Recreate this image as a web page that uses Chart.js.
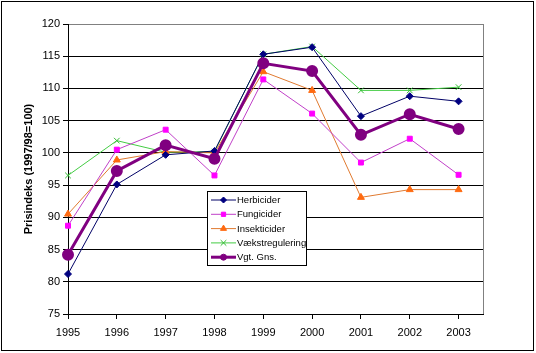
<!DOCTYPE html>
<html>
<head>
<meta charset="utf-8">
<script src="https://cdn.jsdelivr.net/npm/chart.js@4"></script>
<style>
    html, body { margin: 0; padding: 0; background: #fff; }
    #wrap { position: relative; width: 536px; height: 353px; }
    #frame { position: absolute; left: 1px; top: 1px; width: 531px; height: 348px; border: 1px solid #000; pointer-events: none; }
</style>
</head>
<body>
<div id="wrap">
    <canvas id="chart" width="536" height="353"></canvas>
    <div id="frame"></div>
</div>
<script>
const years = [1995, 1996, 1997, 1998, 1999, 2000, 2001, 2002, 2003];
const herbicider = [81.2, 95.1, 99.7, 100.3, 115.3, 116.4, 105.7, 108.8, 108.0];
const fungicider = [88.7, 100.5, 103.6, 96.5, 111.4, 106.1, 98.5, 102.2, 96.6];
const insekticider = [90.5, 98.9, 100.2, 100.0, 112.6, 109.7, 93.1, 94.3, 94.3];
const vaekstregulering = [96.5, 101.9, 100.1, 100.2, 115.3, 116.5, 109.7, 109.7, 110.2];
const vgtGns = [84.2, 97.2, 101.2, 99.1, 113.9, 112.7, 102.8, 106.0, 103.7];

const FONT = 'Liberation Sans, Arial, sans-serif';

function pts(values) {
    return values.map((v, i) => ({ x: years[i], y: v }));
}

// Legend box drawn inside the plot, like the original
const boxLegend = {
    id: 'boxLegend',
    afterDraw(chart) {
        const ctx = chart.ctx;
        const x = 207, y = 191, w = 99, h = 74;
        ctx.save();
        ctx.fillStyle = '#fff';
        ctx.fillRect(x, y, w, h);
        ctx.strokeStyle = '#000';
        ctx.lineWidth = 1;
        ctx.strokeRect(x + 0.5, y + 0.5, w, h);
        ctx.font = '9.5px ' + FONT;
        ctx.textBaseline = 'middle';
        chart.data.datasets.forEach((ds, row) => {
            const cy = y + 9 + row * 14.3;
            ctx.strokeStyle = ds.borderColor;
            ctx.lineWidth = ds.borderWidth;
            ctx.beginPath();
            ctx.moveTo(x + 4, cy);
            ctx.lineTo(x + 29, cy);
            ctx.stroke();
            ctx.fillStyle = ds.pointColor;
            ctx.strokeStyle = ds.pointColor;
            ctx.lineWidth = 1;
            Chart.helpers.drawPoint(ctx, {
                pointStyle: ds.pointStyle,
                radius: ds.legendRadius,
                borderWidth: 1
            }, x + 16.5, cy);
            ctx.fillStyle = '#000';
            ctx.fillText(ds.label, x + 30, cy + 0.5);
        });
        ctx.restore();
    }
};

// gray frame on the right side of the plot area
const plotFrame = {
    id: 'plotFrame',
    beforeDatasetsDraw(chart) {
        const a = chart.chartArea;
        const ctx = chart.ctx;
        ctx.save();
        ctx.strokeStyle = '#808080';
        ctx.lineWidth = 1;
        ctx.beginPath();
        ctx.moveTo(Math.round(a.right) + 0.5, a.top);
        ctx.lineTo(Math.round(a.right) + 0.5, a.bottom);
        ctx.stroke();
        ctx.restore();
    }
};

function prepPointStyle(ds) {
    ds.pointBackgroundColor = ds.pointColor;
    ds.pointBorderColor = ds.pointColor;
    ds.backgroundColor = ds.pointColor;
    ds.clip = false;
    return ds;
}

new Chart(document.getElementById('chart').getContext('2d'), {
    type: 'line',
    data: {
        datasets: [
            prepPointStyle({
                label: 'Herbicider', data: pts(herbicider),
                borderColor: '#000066', pointColor: '#000080', borderWidth: 1,
                pointStyle: 'rectRot', pointRadius: 3.5, legendRadius: 3, order: 1
            }),
            prepPointStyle({
                label: 'Fungicider', data: pts(fungicider),
                borderColor: '#c040c8', pointColor: '#ff00ff', borderWidth: 1,
                pointStyle: 'rect', pointRadius: 3.5, legendRadius: 3, order: 2
            }),
            prepPointStyle({
                label: 'Insekticider', data: pts(insekticider),
                borderColor: '#e07a30', pointColor: '#ff6a10', borderWidth: 1,
                pointStyle: 'triangle', pointRadius: 4, legendRadius: 3.5, order: 3
            }),
            prepPointStyle({
                label: 'Vækstregulering', data: pts(vaekstregulering),
                borderColor: '#44cc44', pointColor: '#33bb33', borderWidth: 1,
                pointStyle: 'crossRot', pointRadius: 4, legendRadius: 4, order: 4
            }),
            prepPointStyle({
                label: 'Vgt. Gns.', data: pts(vgtGns),
                borderColor: '#800080', pointColor: '#800080', borderWidth: 3,
                pointStyle: 'circle', pointRadius: 4.5, legendRadius: 3, order: 0
            })
        ]
    },
    options: {
        responsive: false,
        animation: false,
        events: [],
        layout: { padding: { left: 0, top: 24, right: 53, bottom: 0 } },
        elements: { line: { tension: 0 }, point: { hoverRadius: 4 } },
        plugins: {
            legend: { display: false },
            tooltip: { enabled: false }
        },
        scales: {
            x: {
                type: 'linear',
                min: 1995,
                max: 2003.5,
                afterFit: s => { s.height = 39; },
                ticks: {
                    stepSize: 1,
                    includeBounds: false,
                    maxRotation: 0,
                    autoSkip: false,
                    padding: 7,
                    color: '#000',
                    font: { family: FONT, size: 11 },
                    callback: v => String(v)
                },
                grid: { drawOnChartArea: false, drawTicks: true, tickLength: 5, color: '#000' },
                border: { color: '#000', width: 1 }
            },
            y: {
                min: 75,
                max: 120,
                afterFit: s => { s.width = 68; },
                ticks: {
                    stepSize: 5,
                    padding: 3,
                    color: '#000',
                    font: { family: FONT, size: 11 }
                },
                grid: {
                    color: ctx => (ctx.tick && ctx.tick.value === 120 ? '#808080' : '#000'),
                    tickColor: '#000',
                    tickLength: 5
                },
                border: { color: '#000', width: 1 },
                title: {
                    display: true,
                    text: 'Prisindeks (1997/98=100)',
                    color: '#000',
                    font: { family: FONT, size: 11, weight: 'bold' },
                    padding: { top: 22, bottom: 0 }
                }
            }
        }
    },
    plugins: [plotFrame, boxLegend]
});
</script>
</body>
</html>
